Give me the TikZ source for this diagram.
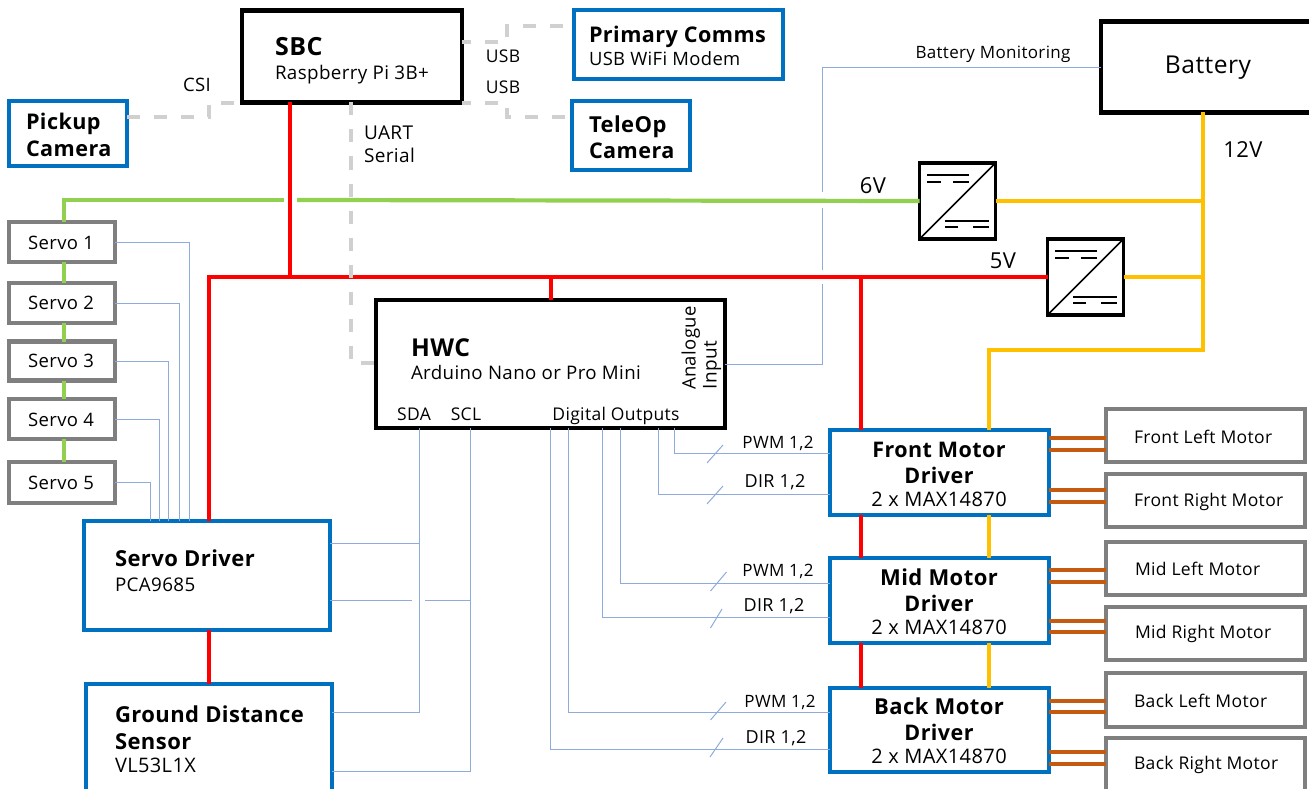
\documentclass[tikz,border=0pt]{standalone}
\usepackage{fontspec}
\setmainfont{Open Sans}[LetterSpace=2]
\definecolor{bbox}{RGB}{0,112,192}
\definecolor{gbox}{RGB}{127,127,127}
\definecolor{redl}{RGB}{255,0,0}
\definecolor{grnl}{RGB}{146,208,80}
\definecolor{yell}{RGB}{255,192,0}
\definecolor{brnl}{RGB}{197,90,17}
\definecolor{sigl}{RGB}{143,170,220}
\definecolor{dshl}{RGB}{208,208,208}
\tikzset{
  x=1pt,y=-1pt,
  boxbase/.style={rectangle,draw,fill=white,inner sep=0pt,outer sep=0pt},
  blackbox/.style={boxbase,draw=black,line width=4.5pt},
  bluebox/.style={boxbase,draw=bbox,line width=4.4pt},
  graybox/.style={boxbase,draw=gbox,line width=4.4pt},
  convbox/.style={boxbase,draw=black,line width=3.5pt,minimum width=76pt,minimum height=76pt},
  sig/.style={draw=sigl,line width=1pt},
  power/.style={line width=4.2pt},
  redw/.style={power,draw=redl},
  grnw/.style={power,draw=grnl},
  yelw/.style={power,draw=yell},
  brnw/.style={power,draw=brnl},
  dsh/.style={draw=dshl,line width=3.5pt,dash pattern=on 13pt off 14pt},
  sym/.style={draw=black,line width=1.2pt},
  txt/.style={inner sep=0pt,outer sep=0pt,text=black},
  lft/.style={txt,anchor=mid west},
  ctr/.style={txt,anchor=mid},
  fz/.style={font=\fontsize{#1}{#1}\selectfont,yshift={(2-0.357*#1)*1pt}},
  bz/.style={font=\fontsize{#1}{#1}\selectfont\bfseries,yshift={(2-0.357*#1)*1pt}},
}
\begin{document}
\begin{tikzpicture}
\useasboundingbox (0,0) rectangle (1309,789);
\clip (0,0) rectangle (1309,789);
% boxes
\node[blackbox,minimum width=220pt,minimum height=92pt] (sbc) at (352,56.5) {};
\node[bluebox,minimum width=209pt,minimum height=69pt] (comms) at (678.5,44.5) {};
\node[bluebox,minimum width=118pt,minimum height=69pt] (teleop) at (631,135.5) {};
\node[bluebox,minimum width=118pt,minimum height=65pt] (pickup) at (68,133.5) {};
\node[blackbox,minimum width=210pt,minimum height=91pt] (batt) at (1206,67) {};
\node[convbox] (conv6) at (957.5,201) {};
\node[convbox] (conv5) at (1085.5,277) {};
\node[blackbox,minimum width=349pt,minimum height=128pt] (hwc) at (550.5,364) {};
\node[graybox,minimum width=106pt,minimum height=40pt] (s1) at (62,242) {};
\node[graybox,minimum width=106pt,minimum height=40pt] (s2) at (62,303) {};
\node[graybox,minimum width=106pt,minimum height=39pt] (s3) at (62,361) {};
\node[graybox,minimum width=106pt,minimum height=40pt] (s4) at (62,419) {};
\node[graybox,minimum width=106pt,minimum height=41pt] (s5) at (62,482.5) {};
\node[bluebox,minimum width=246pt,minimum height=109pt] (sd) at (207,575.5) {};
\node[bluebox,minimum width=246pt,minimum height=114pt] (gd) at (209,741) {};
\node[bluebox,minimum width=219pt,minimum height=85pt] (mf) at (939.5,472.5) {};
\node[bluebox,minimum width=219pt,minimum height=85pt] (mm) at (939.5,600.5) {};
\node[bluebox,minimum width=219pt,minimum height=84pt] (mb) at (939.5,730) {};
\node[graybox,minimum width=199pt,minimum height=53pt] (fl) at (1205.5,435.5) {};
\node[graybox,minimum width=199pt,minimum height=53pt] (fr) at (1205.5,500.5) {};
\node[graybox,minimum width=199pt,minimum height=53pt] (ml) at (1205.5,568.5) {};
\node[graybox,minimum width=199pt,minimum height=53pt] (mr) at (1205.5,633.5) {};
\node[graybox,minimum width=199pt,minimum height=54pt] (bl) at (1205.5,700) {};
\node[graybox,minimum width=199pt,minimum height=55pt] (br) at (1205.5,765.5) {};
% converter symbols
\foreach \c in {conv6,conv5}{
  \draw[sym,line width=1.6pt] (\c.south west) -- (\c.north east);
  \begin{scope}[shift={(\c.center)}]
    \draw[sym] (-30.5,-26) -- (11.5,-26);
    \draw[sym] (-30.5,-19) -- (-16.5,-19) (-4.5,-19) -- (11.5,-19);
    \draw[sym] (-12.5,20) -- (31.5,20);
    \draw[sym] (-12.5,26) -- (0.5,26) (15.5,26) -- (31.5,26);
  \end{scope}
}
% gap points
\coordinate (gl) at (284,200);
\coordinate (gr) at (297,200);
\coordinate (railL) at (209,277);
\coordinate (railN) at (290,277);
\coordinate (railH) at (551,277);
\coordinate (railM) at (861,277);
\coordinate (yb) at (1203,350);
\coordinate (ym) at (989,350);
\coordinate (corner) at (64,200);
% green
\draw[grnw] (conv6.west) -- (gr);
\draw[grnw] (gl) -- (corner) -- (s1.north -| corner);
\draw[grnw] (s1.south -| corner) -- (s2.north -| corner);
\draw[grnw] (s2.south -| corner) -- (s3.north -| corner);
\draw[grnw] (s3.south -| corner) -- (s4.north -| corner);
\draw[grnw] (s4.south -| corner) -- (s5.north -| corner);
% red
\draw[redw] (sbc.south -| railN) -- (railN);
\draw[redw] (conv5.west) -- (railL) -- (sd.north -| railL);
\draw[redw] (railH) -- (hwc.north -| railH);
\draw[redw] (railM) -- (mf.north -| railM);
\draw[redw] (mf.south -| railM) -- (mm.north -| railM);
\draw[redw] (mm.south -| railM) -- (mb.north -| railM);
\draw[redw] (sd.south -| railL) -- (gd.north -| railL);
% yellow
\draw[yelw] (batt.south -| yb) -- (yb) -- (ym) -- (mf.north -| ym);
\draw[yelw] (conv6.east) -- (conv6.east -| yb);
\draw[yelw] (conv5.east) -- (conv5.east -| yb);
\draw[yelw] (mf.south -| ym) -- (mm.north -| ym);
\draw[yelw] (mm.south -| ym) -- (mb.north -| ym);
% motors
\draw[brnw] (mf.east |- 0,438) -- (fl.west |- 0,438);
\draw[brnw] (mf.east |- 0,450) -- (fl.west |- 0,450);
\draw[brnw] (mf.east |- 0,490) -- (fr.west |- 0,490);
\draw[brnw] (mf.east |- 0,502) -- (fr.west |- 0,502);
\draw[brnw] (mm.east |- 0,570) -- (ml.west |- 0,570);
\draw[brnw] (mm.east |- 0,582) -- (ml.west |- 0,582);
\draw[brnw] (mm.east |- 0,621) -- (mr.west |- 0,621);
\draw[brnw] (mm.east |- 0,632) -- (mr.west |- 0,632);
\draw[brnw] (mb.east |- 0,701) -- (bl.west |- 0,701);
\draw[brnw] (mb.east |- 0,712) -- (bl.west |- 0,712);
\draw[brnw] (mb.east |- 0,752) -- (br.west |- 0,752);
\draw[brnw] (mb.east |- 0,764) -- (br.west |- 0,764);
% dashed
\draw[dsh] (pickup.east |- 0,117) -- (209,117) -- (209,103) -- (sbc.west |- 0,103);
\draw[dsh,dash phase=4pt] (sbc.east |- 0,42) -| (507,26) -- (comms.west |- 0,26);
\draw[dsh,dash phase=4pt] (sbc.east |- 0,103) -| (507,117) -- (teleop.west |- 0,117);
\draw[dsh] (sbc.south -| 351,0) -- (351,363) -- (hwc.west |- 0,363);
% servo signals
\draw[sig] (s1.east) -| (sd.north -| 189,0);
\draw[sig] (s2.east) -| (sd.north -| 179,0);
\draw[sig] (s3.east) -| (sd.north -| 168,0);
\draw[sig] (s4.east) -| (sd.north -| 159,0);
\draw[sig] (s5.east) -| (sd.north -| 150,0);
% i2c
\draw[sig] (hwc.south -| 419,0) |- (gd.east |- 0,712);
\draw[sig] (sd.east |- 0,543) -- (419,543);
\draw[sig] (hwc.south -| 470,0) |- (gd.east |- 0,771);
\draw[sig] (sd.east |- 0,600) -- (412,600);
\draw[sig] (425,600) -- (470,600);
% battery monitoring
\draw[sig] (batt.west |- 0,67.5) -- (822.5,67.5) -- (822.5,192);
\draw[sig] (822.5,208) -- (822.5,270);
\draw[sig] (822.5,284) -- (822.5,364) -- (hwc.east |- 0,364);
% digital
\draw[sig] (hwc.south -| 674,0) |- (mf.west |- 0,453);
\draw[sig] (hwc.south -| 658,0) |- (mf.west |- 0,494);
\draw[sig] (hwc.south -| 620,0) |- (mm.west |- 0,583);
\draw[sig] (hwc.south -| 602,0) |- (mm.west |- 0,617);
\draw[sig] (hwc.south -| 568,0) |- (mb.west |- 0,712);
\draw[sig] (hwc.south -| 550.5,0) |- (mb.west |- 0,749);
% bus slashes
\draw[sig] (707,463) -- (723,445);
\draw[sig] (707,504) -- (723,486);
\draw[sig] (710.5,591) -- (726.5,572);
\draw[sig] (710.5,628) -- (722,609);
\draw[sig] (710.5,720) -- (726,702);
\draw[sig] (710,757) -- (723,738);
% text
\node[lft,bz=25] (t1) at (275,46) {SBC};
\node[lft,fz=18.8] (t2) at (275,72) {Raspberry Pi 3B+};
\node[ctr,fz=18.5] (t3) at (197,84) {CSI};
\node[ctr,fz=17.5] (t4) at (503,56) {USB};
\node[ctr,fz=17.5] (t5) at (503,87) {USB};
\node[lft,fz=19] (t6) at (364,132) {UART};
\node[lft,fz=19] (t7) at (364,155) {Serial};
\node[lft,bz=21.6] (t8) at (26,121) {Pickup};
\node[lft,bz=21.6] (t9) at (26,148) {Camera};
\node[lft,bz=21.6] (t10) at (589,34) {Primary Comms};
\node[lft,fz=18.4] (t11) at (589,58) {USB WiFi Modem};
\node[lft,bz=22] (t12) at (589,124) {TeleOp};
\node[lft,bz=21.6] (t13) at (589,150) {Camera};
\node[ctr,fz=17] (t14) at (993,52) {Battery Monitoring};
\node[ctr,fz=24.6] (t15) at (1208,64) {Battery};
\node[ctr,fz=22] (t16) at (1243,149) {12V};
\node[ctr,fz=22] (t17) at (873,185) {6V};
\node[ctr,fz=22] (t18) at (1003,260) {5V};
\node[ctr,fz=18.5] (t19) at (61,242) {Servo 1};
\node[ctr,fz=18.5] (t20) at (61,302) {Servo 2};
\node[ctr,fz=18.5] (t21) at (61,360) {Servo 3};
\node[ctr,fz=18.5] (t22) at (61,419) {Servo 4};
\node[ctr,fz=18.5] (t23) at (61,482) {Servo 5};
\node[lft,bz=24.6] (t24) at (411,347) {HWC};
\node[lft,fz=18.7] (t25) at (411,372) {Arduino Nano or Pro Mini};
\node[txt,anchor=mid,rotate=90,font=\fontsize{18.5}{18.5}\selectfont] (t26) at (693,348) {Analogue};
\node[txt,anchor=mid,rotate=90,font=\fontsize{19}{19}\selectfont] (t27) at (714,365) {Input};
\node[ctr,fz=17.5] (t28) at (414,414) {SDA};
\node[ctr,fz=17.5] (t29) at (466,414) {SCL};
\node[ctr,fz=17.5] (t30) at (616,414) {Digital Outputs};
\node[lft,bz=22] (t31) at (115,558) {Servo Driver};
\node[lft,fz=18.8] (t32) at (115,584) {PCA9685};
\node[lft,bz=22] (t33) at (115,714) {Ground Distance};
\node[lft,bz=22] (t34) at (115,741) {Sensor};
\node[lft,fz=20] (t35) at (115,765) {VL53L1X};
\node[ctr,fz=17] (t36) at (778,442) {PWM 1,2};
\node[ctr,fz=18] (t37) at (775,480) {DIR 1,2};
\node[ctr,fz=17] (t38) at (778,570) {PWM 1,2};
\node[ctr,fz=18] (t39) at (774,604) {DIR 1,2};
\node[ctr,fz=17] (t40) at (780,701) {PWM 1,2};
\node[ctr,fz=18] (t41) at (776,736) {DIR 1,2};
\node[ctr,bz=21.5] (t42) at (939,449) {Front Motor};
\node[ctr,bz=21.5] (t43) at (939,475) {Driver};
\node[ctr,fz=20] (t44) at (939,499) {2 x MAX14870};
\node[ctr,bz=22] (t45) at (939,577) {Mid Motor};
\node[ctr,bz=21.5] (t46) at (939,603) {Driver};
\node[ctr,fz=20] (t47) at (939,627) {2 x MAX14870};
\node[ctr,bz=22] (t48) at (939,706) {Back Motor};
\node[ctr,bz=21.5] (t49) at (939,732) {Driver};
\node[ctr,fz=20] (t50) at (939,756) {2 x MAX14870};
\node[lft,fz=17.5] (t51) at (1134,437) {Front Left Motor};
\node[lft,fz=17.5] (t52) at (1134,500) {Front Right Motor};
\node[lft,fz=17.5] (t53) at (1135,569) {Mid Left Motor};
\node[lft,fz=17.5] (t54) at (1135,632) {Mid Right Motor};
\node[lft,fz=17.5] (t55) at (1134,701) {Back Left Motor};
\node[lft,fz=17.5] (t56) at (1134,763) {Back Right Motor};
\end{tikzpicture}
\end{document}
